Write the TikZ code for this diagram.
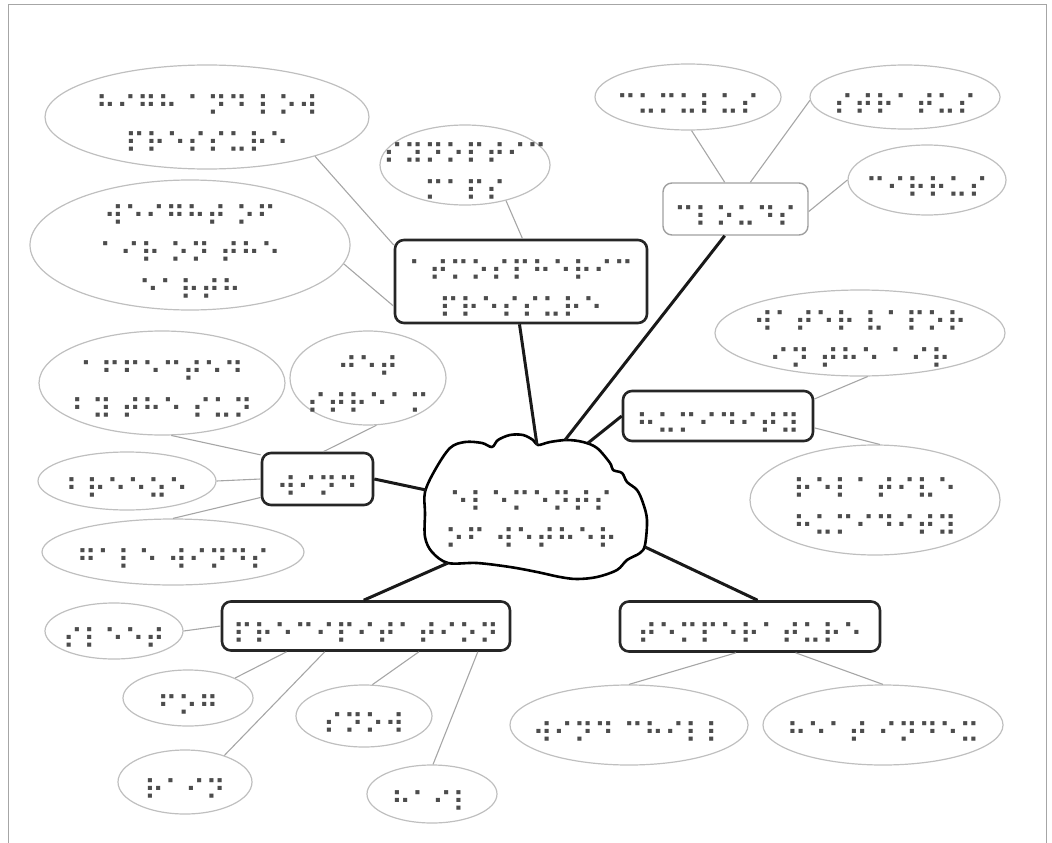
\documentclass[tikz,border=0pt]{standalone}
\usepackage{fontspec}
\newfontfamily\brlfont{DejaVu Sans}
\usetikzlibrary{shapes.geometric}
\usepackage{xcolor}

% braille label, kept out of the node size
\newcommand{\brl}[1]{\makebox[0pt]{\smash{\raisebox{-17pt}{\fontsize{28pt}{37pt}\selectfont\begin{tabular}{@{}c@{}}#1\end{tabular}}}}}

\begin{document}
\begin{tikzpicture}[
    x=1pt, y=-1pt,
    sz/.style 2 args={minimum width=#1pt, minimum height=#2pt},
    idea/.style={ellipse, draw=gray!50, line width=1.2pt, inner sep=0pt, font=\brlfont, text=black!70},
    branch/.style={rectangle, draw=black!85, line width=2.6pt, rounded corners=9pt, inner sep=0pt, font=\brlfont, text=black!70},
    link/.style={draw=gray!70, line width=1.1pt},
    spoke/.style={draw=black!90, line width=3pt}
]
    \useasboundingbox (0,0) rectangle (1052,843);
    \draw[gray!70, line width=1pt] (8,850) -- (8,5) -- (1046,5) -- (1046,850);

    % centre
    \draw[black, line width=2.6pt, line join=round]
        plot[smooth cycle, tension=0.55] coordinates {(425,492) (435,470) (450,448) (465,442) (482,443) (492,447) (498,440) (510,435) (523,435) (533,440) (538,445) (550,442) (567,440) (583,442) (597,448) (610,463) (613,470) (622,473) (627,482) (637,490) (643,503) (647,520) (645,545) (640,553) (627,560) (617,570) (597,577) (577,579) (560,577) (537,572) (510,567) (477,563) (448,563) (432,552) (425,537) (425,513)};
    \node (weather) at (531,513) {\brlfont\color{black!70}\brl{⠑⠇⠑⠍⠑⠝⠞⠎\\⠕⠋ ⠺⠑⠞⠓⠑⠗}};
    \coordinate (qD) at (537,445);
    \coordinate (qG) at (565,440);
    \coordinate (qJ) at (588,443);
    \coordinate (qN) at (426,490);
    \coordinate (qR) at (448,563);
    \coordinate (qX) at (645,547);

    % branches
    \node[branch, sz={252}{83}] (atmos) at (521,281.5) {\brl{⠁⠞⠍⠕⠎⠏⠓⠑⠗⠊⠉\\⠏⠗⠑⠎⠎⠥⠗⠑}};
    \node[branch, sz={145}{52}, draw=gray!75, line width=1.4pt] (clouds) at (735.5,209) {\brl{⠉⠇⠕⠥⠙⠎}};
    \node[branch, sz={190}{50}] (humidity) at (718,416) {\brl{⠓⠥⠍⠊⠙⠊⠞⠽}};
    \node[branch, sz={111}{52}] (wind) at (317.5,479) {\brl{⠺⠊⠝⠙}};
    \node[branch, sz={288}{49}] (precip) at (366,626) {\brl{⠏⠗⠑⠉⠊⠏⠊⠞⠁⠞⠊⠕⠝}};
    \node[branch, sz={260}{50}] (temp) at (750,626.5) {\brl{⠞⠑⠍⠏⠑⠗⠁⠞⠥⠗⠑}};

    % ideas
    \node[idea, sz={324}{104}] (highlow) at (207,117) {\brl{⠓⠊⠛⠓ ⠁⠝⠙ ⠇⠕⠺\\⠏⠗⠑⠎⠎⠥⠗⠑}};
    \node[idea, sz={320}{130}] (weightair) at (190,245) {\brl{⠺⠑⠊⠛⠓⠞ ⠕⠋\\⠁⠊⠗ ⠕⠝ ⠞⠓⠑\\⠑⠁⠗⠞⠓}};
    \node[idea, sz={170}{80}] (synoptic) at (465,165) {\brl{⠎⠽⠝⠕⠏⠞⠊⠉\\⠍⠁⠏⠎}};
    \node[idea, sz={186}{66}] (cumulus) at (688,97) {\brl{⠉⠥⠍⠥⠇⠥⠎}};
    \node[idea, sz={190}{64}] (stratus) at (905,97) {\brl{⠎⠞⠗⠁⠞⠥⠎}};
    \node[idea, sz={158}{70}] (cirrus) at (927,180) {\brl{⠉⠊⠗⠗⠥⠎}};
    \node[idea, sz={290}{86}] (vapour) at (860,333) {\brl{⠺⠁⠞⠑⠗ ⠧⠁⠏⠕⠗\\⠊⠝ ⠞⠓⠑ ⠁⠊⠗}};
    \node[idea, sz={250}{110}] (relhum) at (875,500) {\brl{⠗⠑⠇⠁⠞⠊⠧⠑\\⠓⠥⠍⠊⠙⠊⠞⠽}};
    \node[idea, sz={246}{104}] (sun) at (162,383) {\brl{⠁⠋⠋⠑⠉⠞⠑⠙\\⠃⠽ ⠞⠓⠑ ⠎⠥⠝}};
    \node[idea, sz={156}{94}] (jet) at (368,378) {\brl{⠚⠑⠞\\⠎⠞⠗⠑⠁⠍}};
    \node[idea, sz={178}{58}] (breeze) at (127,481) {\brl{⠃⠗⠑⠑⠵⠑}};
    \node[idea, sz={262}{66}] (gale) at (173,552) {\brl{⠛⠁⠇⠑ ⠺⠊⠝⠙⠎}};
    \node[idea, sz={138}{56}] (sleet) at (114,631) {\brl{⠎⠇⠑⠑⠞}};
    \node[idea, sz={130}{56}] (fog) at (188,698) {\brl{⠋⠕⠛}};
    \node[idea, sz={136}{62}] (snow) at (364,716) {\brl{⠎⠝⠕⠺}};
    \node[idea, sz={134}{64}] (rain) at (185,782) {\brl{⠗⠁⠊⠝}};
    \node[idea, sz={130}{58}] (hail) at (432,794) {\brl{⠓⠁⠊⠇}};
    \node[idea, sz={238}{80}] (chill) at (629,725) {\brl{⠺⠊⠝⠙ ⠉⠓⠊⠇⠇}};
    \node[idea, sz={240}{80}] (heatidx) at (883,725) {\brl{⠓⠑⠁⠞ ⠊⠝⠙⠑⠭}};

    % spokes from the centre
    \draw[spoke] (qD) -- (atmos.-92);
    \draw[spoke] (qG) -- (clouds.-112);
    \draw[spoke] (qJ) -- (humidity.180);
    \draw[spoke] (qN) -- (wind.east);
    \draw[spoke] (qR) -- (precip.95);
    \draw[spoke] (qX) -- (temp.74);

    % thin links
    \draw[link] (highlow.-20) -- (atmos.164);
    \draw[link] (weightair.-7) -- (atmos.191);
    \draw[link] (synoptic.-41) -- (atmos.88);
    \draw[link] (cumulus.-84) -- (clouds.112);
    \draw[link] (stratus.182) -- (clouds.61);
    \draw[link] (cirrus.180) -- (clouds.-2);
    \draw[link] (vapour.-80) -- (humidity.10);
    \draw[link] (relhum.85) -- (humidity.-7);
    \draw[link] (sun.-80) -- (wind.157);
    \draw[link] (jet.-80) -- (wind.78);
    \draw[link] (breeze.0) -- (wind.180);
    \draw[link] (gale.90) -- (wind.198);
    \draw[link] (sleet.0) -- (precip.180);
    \draw[link] (fog.23) -- (precip.198);
    \draw[link] (rain.34) -- (precip.212);
    \draw[link] (snow.75) -- (precip.-26);
    \draw[link] (hail.88) -- (precip.-13);
    \draw[link] (chill.90) -- (temp.242);
    \draw[link] (heatidx.90) -- (temp.-30);
\end{tikzpicture}
\end{document}
